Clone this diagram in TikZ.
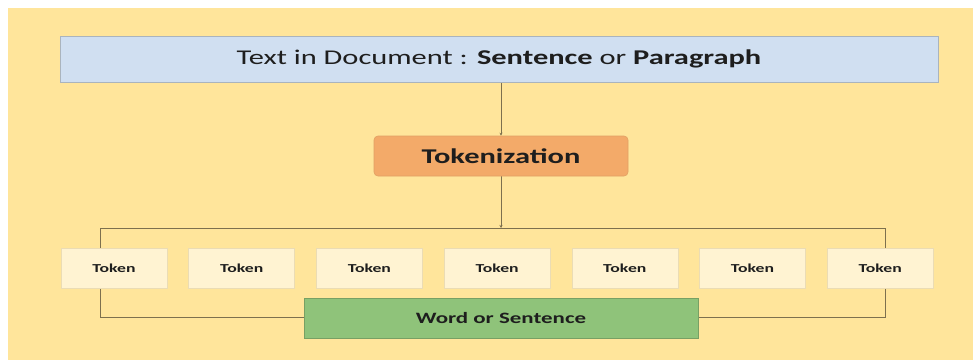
\documentclass[tikz,border=0pt]{standalone}
\usepackage{fontspec}
\setmainfont{Carlito}[FakeStretch=1.45]
\usetikzlibrary{arrows.meta,backgrounds}
\definecolor{bgyellow}{RGB}{255,229,155}
\definecolor{docblue}{RGB}{208,223,241}
\definecolor{docedge}{RGB}{170,180,190}
\definecolor{tokorange}{RGB}{243,170,105}
\definecolor{tokedge}{RGB}{225,160,100}
\definecolor{tokcream}{RGB}{255,243,210}
\definecolor{creamedge}{RGB}{235,220,180}
\definecolor{wordgreen}{RGB}{143,195,122}
\definecolor{greenedge}{RGB}{120,160,100}
\definecolor{linecol}{RGB}{125,112,78}
\definecolor{txt}{RGB}{30,30,30}
\tikzset{
  docbox/.style={draw=docedge, line width=0.6pt, fill=docblue, minimum width=878pt, minimum height=46pt, inner sep=0pt, text=txt, font=\fontsize{21}{25}\selectfont},
  tokbox/.style={draw=tokedge, line width=0.6pt, fill=tokorange, rounded corners=4pt, minimum width=254pt, minimum height=40pt, inner sep=0pt, text=txt, font=\fontsize{21}{25}\selectfont\bfseries},
  tokenbox/.style={draw=creamedge, line width=0.6pt, fill=tokcream, minimum width=106pt, minimum height=40pt, inner sep=0pt, text=txt, font=\fontsize{12.2}{14}\selectfont\bfseries},
  wordbox/.style={draw=greenedge, line width=0.6pt, fill=wordgreen, minimum width=394pt, minimum height=40pt, inner sep=0pt, text=txt, font=\fontsize{15.8}{19}\selectfont\bfseries},
  conn/.style={draw=linecol, line width=0.8pt},
  tip/.style={-{Stealth[length=3pt,width=3pt]}}
}
\begin{document}
\begin{tikzpicture}[x=1pt,y=-1pt]
\useasboundingbox (0,0) rectangle (973,360);
\node[docbox] (doc) at (499,59) {Text in Document : \textbf{Sentence} or \textbf{Paragraph}};
\node[tokbox] (tok) at (501,156) {Tokenization};
\foreach \i in {1,...,7}{
  \node[tokenbox] (t\i) at ({114+127.7*(\i-1)},268) {Token};
}
\node[wordbox] (word) at (501,318) {Word or Sentence};
\coordinate (bus) at (501,228);
\coordinate (tl) at (100,228);
\coordinate (tr) at (885,228);
\coordinate (bl) at (100,317);
\coordinate (br) at (885,317);
\begin{scope}[on background layer]
  \fill[bgyellow] (8,8) rectangle (973,360);
  \draw[conn,tip] (doc.south -| tok.north) -- (tok.north);
  \draw[conn,tip] (tok.south) -- (bus);
  \draw[conn] (tl) -- (tr) -- (br) -- (bl) -- cycle;
\end{scope}
\end{tikzpicture}
\end{document}
